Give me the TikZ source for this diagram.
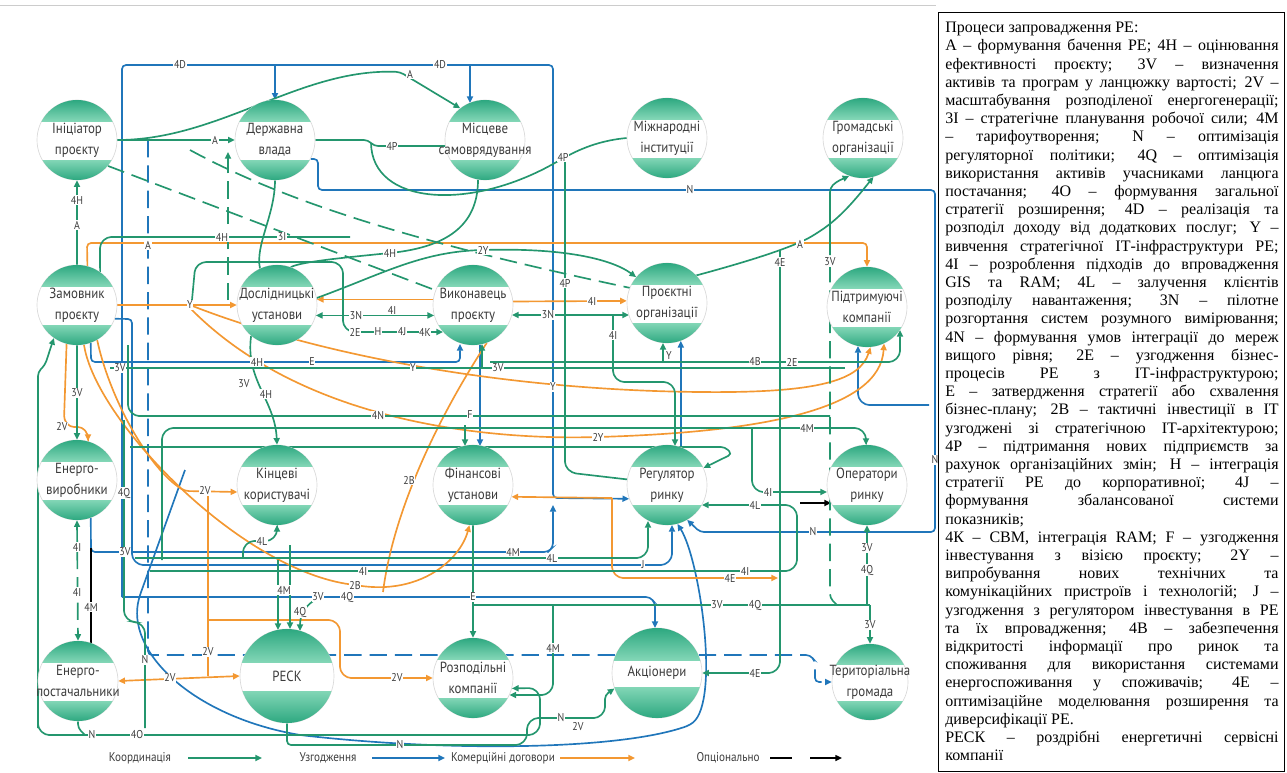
\documentclass[tikz,border=0pt]{standalone}
\usepackage{fontspec}
\setmainfont{Liberation Serif}
\newfontfamily\nodefont[FakeStretch=0.88]{PT Sans}
\usetikzlibrary{arrows.meta}
\definecolor{cg}{RGB}{36,150,110}
\definecolor{cb}{RGB}{32,118,186}
\definecolor{co}{RGB}{243,152,50}
\definecolor{capd}{RGB}{45,168,128}
\definecolor{capl}{RGB}{130,214,182}
\definecolor{txt}{RGB}{60,60,60}
\pgfdeclarelayer{bg}
\pgfsetlayers{bg,main}
\newcounter{lbc}
\tikzset{
  ln/.style={line width=1.25pt,rounded corners=3pt},
  gl/.style={ln,draw=cg},
  bl/.style={ln,draw=cb},
  ol/.style={ln,draw=co},
  kl/.style={ln,draw=black},
  dsh/.style={dash pattern=on 13pt off 6pt},
  ar/.style={-{Triangle[length=5pt,width=4.5pt]}},
  rar/.style={{Triangle[length=5pt,width=4.5pt]}-{Triangle[length=5pt,width=4.5pt]}},
  lab/.style={font=\nodefont\fontsize{8.5}{9}\selectfont,text=txt,fill=white,inner sep=0.5pt},
  ntext/.style={font=\nodefont\fontsize{11}{15.5}\selectfont,text=txt,align=center,inner sep=0pt},
  legtext/.style={font=\nodefont\fontsize{9.5}{10}\selectfont,text=txt},
}
% connector label
\newcommand\lb[3]{\stepcounter{lbc}\node[lab] (lb\arabic{lbc}) at (#1,#2) {#3};}
% sphere-like participant: name, x, y, radius, band above, band below, text
\newcommand\sph[7]{%
  \fill[white] (#2,#3) circle[radius=#4];
  \draw[black!15,line width=0.5pt] (#2,#3) circle[radius=#4];
  \begin{scope}
    \clip (#2,#3) circle[radius=#4];
    \shade[top color=capd,bottom color=capl] (#2-#4,#3-#4) rectangle (#2+#4,#3-#5);
    \shade[top color=capl,bottom color=capd] (#2-#4,#3+#6) rectangle (#2+#4,#3+#4);
  \end{scope}
  \node[circle,inner sep=0pt,minimum size={1.5*#4 pt}] (#1) at (#2,#3) {};
  \node[ntext] (#1-t) at (#2,#3) {#7};
}
\newcommand\jl[1]{\makebox[250pt][s]{#1}}
\begin{document}
\begin{tikzpicture}[x=0.75pt,y=-0.75pt]
\useasboundingbox (0,0) rectangle (1287,772);
\draw[black!20,line width=0.5pt] (0,5) -- (936,5);

% ---------------- participants
\sph{ini}{77}{140}{40}{19}{20}{Ініціатор\\проєкту}
\sph{der}{275}{140}{40}{19}{20}{Державна\\влада}
\sph{mis}{485}{140}{40}{19}{20}{Місцеве\\самоврядування}
\sph{mig}{667}{138}{40}{19}{20}{Міжнародні\\інституції}
\sph{gro}{863}{138}{40}{19}{20}{Громадські\\організації}
\sph{zam}{77}{305}{40}{19}{20}{Замовник\\проєкту}
\sph{dos}{277}{305}{40}{19}{20}{Дослідницькі\\установи}
\sph{vyk}{473}{305}{40}{19}{20}{Виконавець\\проєкту}
\sph{pro}{667}{303}{40}{19}{20}{Проєктні\\організації}
\sph{pid}{867}{307}{40}{19}{20}{Підтримуючі\\компанії}
\sph{evy}{77}{480}{40}{19}{20}{Енерго-\\виробники}
\sph{kin}{277}{485}{40}{19}{20}{Кінцеві\\користувачі}
\sph{fin}{473}{485}{40}{19}{20}{Фінансові\\установи}
\sph{reg}{667}{485}{40}{19}{20}{Регулятор\\ринку}
\sph{ope}{867}{485}{40}{19}{20}{Оператори\\ринку}
\sph{epo}{78}{681}{40}{19}{20}{Енерго-\\постачальники}
\sph{resk}{287}{676}{47}{14}{15}{РЕСК}
\sph{roz}{473}{678}{40}{19}{20}{Розподільні\\компанії}
\sph{akc}{657}{673}{45}{13}{14}{Акціонери}
\sph{ter}{870}{682}{38}{18}{19}{Територіальна\\громада}

\begin{pgfonlayer}{bg}
% ---------------- agreements (blue)
\draw[bl,ar] (122,597) -- (122,65) -- (553,65) -- (553,498) -- (reg.200);
\draw[bl,ar] (275,65) -- (der.north);
\draw[bl,ar] (470,65) -- (470,103);
\draw[bl,ar] (122,597) -- (650,597) -- (655,603) -- (655,628);
\draw[bl,ar] (der.-28) -- (318,159) -- (318,190) -- (935,190) -- (935,532) -- (700,532) -- (reg.-60);
\draw[bl,dsh,ar] (148,140) -- (148,655) -- (810,655) -- (815,661) -- (815,682) -- (ter.west);
\draw[bl,ar] (zam.-70) -- (91,362) -- (460,362) -- (460,344);
\draw[bl,ar] (vyk.-80) -- (480,446);
\draw[bl,ar] (reg.70) -- (pro.-70);
\draw[bl,ar] (185,470) -- (140,595) .. controls (125,650) and (190,715) .. (300,735)
  .. controls (450,752) and (620,750) .. (690,725) .. controls (720,700) and (700,560) .. (reg.-75);
\draw[bl,ar] (evy.-70) -- (91,552) -- (548,552) -- (553,547) -- (553,505);
\draw[bl,ar] (zam.-20) -- (132,319) -- (132,558) -- (139,565) -- (665,565) -- (672,558) -- (672,525);
\draw[bl,ar] (929,405) -- (865,405) -- (858,398) -- (858,346);

% ---------------- commercial contracts (orange)
\draw[ol,ar] (zam.75) -- (87,243) -- (867,243) -- (pid.north);
\draw[ol,ar] (zam.east) -- (dos.west);
\draw[ol,ar] (190,305) .. controls (330,360) and (520,390) .. (700,392) .. controls (820,393) and (860,380) .. (pid.-85);
\draw[ol,ar] (190,308) .. controls (300,420) and (480,440) .. (598,437) .. controls (760,432) and (880,410) .. (pid.-65);
\draw[ol,ar] (zam.-80) .. controls (95,420) and (240,570) .. (355,585) .. controls (420,595) and (460,560) .. (fin.-95);
\draw[ol] (383,592) .. controls (392,520) and (430,430) .. (vyk.-70);
\draw[ol,ar] (zam.-105) -- (64,420) -- (70,427) -- (82,427) -- (88,434) -- (88,441);
\draw[ol,ar] (zam.-60) .. controls (110,400) and (150,470) .. (185,491) -- (kin.190);
\draw[ol] (208,491) -- (208,676);
\draw[ol,rar] (epo.east) -- (resk.west);
\draw[ol,ar] (208,620) -- (333,620) -- (340,627) -- (340,671) -- (347,678) -- (roz.west);
\draw[ol,ar] (612,498) -- (fin.-17);
\draw[ol,ar] (612,498) -- (612,571) -- (619,578) -- (778,578);
\draw[ol,ar] (vyk.172) -- (dos.8);
\draw[ol,ar] (vyk.5) -- (pro.177);

% ---------------- coordination (green)
\draw[gl,ar] (ini.east) -- (der.west);
\draw[gl,ar] (ini.east) .. controls (220,140) and (300,68) .. (400,72) -- (mis.128);
\draw[gl] (der.east) -- (368,140) -- (374,146) -- (446,146);
\draw[gl] (371,143) .. controls (372,205) and (470,212) .. (560,160) .. controls (585,146) and (605,140) .. (mig.west);
\draw[gl,ar] (zam.north) -- (ini.south);
\draw[gl] (mis.-100) .. controls (478,215) and (460,245) .. (390,253) .. controls (340,258) and (300,262) .. (dos.70);
\draw[gl] (der.south) .. controls (275,215) and (255,245) .. (dos.115);
\draw[gl] (zam.55) -- (100,244) -- (107,237) -- (350,237);
\draw[gl,ar] (dos.10) .. controls (380,275) and (420,252) .. (483,250) .. controls (560,248) and (610,258) .. (pro.140);
\draw[gl,dsh] (ini.-40) -- (440,292);
\draw[gl,dsh] (190,150) .. controls (300,210) and (450,250) .. (640,290);
\draw[gl,ar] (640,290) .. controls (720,270) and (790,250) .. (817,233) .. controls (840,218) and (855,200) .. (gro.-75);
\draw[gl,dsh,ar] (228,300) -- (228,152);
\draw[gl,ar] (192,300) -- (195,268) -- (202,262) -- (336,262) -- (343,269) -- (343,325) -- (350,332) -- (443,332);
\draw[gl,rar] (dos.-15) -- (vyk.195);
\draw[gl,rar] (512,315) -- (629,315);
\draw[gl,ar] (613,315) -- (613,375) -- (620,382) -- (668,382) -- (675,389) -- (675,446);
\draw[gl] (565,158) -- (565,466) -- (572,473) -- (reg.172);
\draw[gl,ar] (490,362) -- (893,362) -- (900,355) -- (900,330);
\draw[gl,ar] (663,362) -- (663,343);
\draw[gl] (110,368) -- (845,368);
\draw[gl,ar] (482,368) -- (482,344);
\draw[gl] (128,345) -- (128,409) -- (135,416) -- (830,416);
\draw[gl,ar] (162,560) -- (162,435) -- (169,428) -- (859,428) -- (866,435) -- (866,445);
\draw[gl,ar] (130,447) -- (725,447) -- (732,454) -- (reg.25);
\draw[gl,ar] (752,428) -- (752,485) -- (759,492) -- (827,492);
\draw[kl,ar] (800,503) -- (831,503);
\draw[gl,ar] (150,571) -- (790,571) -- (797,564) -- (797,512) -- (790,505) -- (702,505);
\draw[gl,ar] (135,558) -- (641,558) -- (648,551) -- (648,521);
\draw[gl,ar] (243,558) -- (243,548) -- (250,541) -- (270,541) -- (277,534) -- (277,525);
\draw[gl,ar] (zam.south) -- (evy.north);
\draw[gl,ar] (38,728) -- (38,372) -- (45,365) -- (zam.-125);
\draw[gl,ar] (38,700) -- (38,728) -- (45,735) -- (533,735) -- (540,728) -- (540,695) -- (533,688) -- (roz.-15);
\draw[gl] (epo.south) -- (78,728) -- (85,735);
\draw[gl,ar] (resk.south) -- (287,745) -- (520,745) -- (527,738) -- (527,725) -- (534,718) -- (598,718)
  -- (605,711) -- (605,695) -- (akc.200);
\draw[gl,ar] (553,605) -- (553,688) -- (546,695) -- (roz.-25);
\draw[gl,ar] (780,250) -- (780,666) -- (773,673) -- (akc.east);
\draw[gl,ar] (830,255) -- (830,188) -- (836,182) -- (gro.-110);
\draw[gl,dsh] (830,265) -- (830,598) -- (837,605);
\draw[gl,ar] (fin.south) -- (roz.north);
\draw[gl] (473,605) -- (870,605);
\draw[gl,ar] (867,605) -- (ope.south);
\draw[gl,ar] (870,605) -- (ter.north);
\draw[gl,dsh,rar] (evy.south) -- (epo.north);
\draw[kl] (91,548) -- (91,645);
\draw[gl] (124,420) -- (124,615) -- (131,622) -- (138,622) -- (145,629) -- (145,728);
\draw[gl,ar] (278,560) -- (278,630);
\draw[gl,ar] (290,545) -- (290,629);
\draw[gl,ar] (318,598) .. controls (305,605) and (300,615) .. (300,631);
\draw[gl,ar] (dos.-130) .. controls (245,380) and (275,400) .. (kin.north);
\draw[gl,ar] (465,425) -- (465,446);
\end{pgfonlayer}

% ---------------- connector labels
\lb{180}{65}{4D}\lb{440}{65}{4D}\lb{410}{74}{A}\lb{215}{140}{A}
\lb{392}{146}{4P}\lb{563}{157}{4P}\lb{77}{200}{4H}\lb{77}{225}{A}
\lb{148}{245}{A}\lb{222}{237}{4H}\lb{282}{237}{3I}\lb{390}{253}{4H}
\lb{483}{250}{2Y}\lb{690}{190}{N}\lb{800}{244}{A}\lb{830}{262}{3V}
\lb{780}{262}{4E}\lb{190}{305}{Y}\lb{356}{316}{3N}\lb{392}{310}{4I}
\lb{355}{332}{2E}\lb{378}{332}{H}\lb{402}{332}{4J}\lb{425}{332}{4K}
\lb{548}{315}{3N}\lb{592}{301}{4I}\lb{613}{335}{4I}\lb{565}{283}{4P}
\lb{553}{387}{Y}\lb{257}{362}{4H}\lb{312}{362}{E}\lb{413}{368}{Y}
\lb{498}{368}{3V}\lb{669}{356}{Y}\lb{755}{362}{4B}\lb{792}{362}{2E}
\lb{120}{368}{3V}\lb{77}{393}{3V}\lb{62}{427}{2V}\lb{205}{491}{2V}
\lb{124}{493}{4Q}\lb{378}{416}{4N}\lb{807}{428}{4M}\lb{598}{437}{2Y}
\lb{470}{415}{F}\lb{244}{384}{3V}\lb{266}{394}{4H}\lb{125}{552}{3V}
\lb{513}{552}{4M}\lb{262}{541}{4L}\lb{552}{558}{4L}\lb{643}{565}{J}
\lb{363}{571}{4I}\lb{745}{571}{4I}\lb{755}{505}{4L}\lb{768}{492}{4I}
\lb{935}{460}{N}\lb{813}{532}{N}\lb{409}{480}{2B}\lb{355}{585}{2B}
\lb{730}{578}{4E}\lb{318}{597}{3V}\lb{347}{597}{4Q}\lb{473}{597}{E}
\lb{717}{605}{3V}\lb{755}{605}{4Q}\lb{867}{548}{3V}\lb{867}{570}{4Q}
\lb{870}{625}{3V}\lb{77}{547}{4I}\lb{77}{592}{4I}\lb{91}{607}{4M}
\lb{284}{590}{4M}\lb{300}{612}{4Q}\lb{208}{652}{2V}\lb{170}{678}{2V}
\lb{397}{678}{2V}\lb{553}{648}{4M}\lb{755}{673}{4E}\lb{92}{735}{N}
\lb{137}{735}{4O}\lb{145}{660}{N}\lb{400}{745}{N}\lb{561}{718}{N}
\lb{578}{727}{2V}

% ---------------- key of line colours
\node[legtext] (lg1) at (140,758) {Координація};
\draw[gl,ar] (188,758) -- (262,758);
\node[legtext] (lg2) at (328,758) {Узгодження};
\draw[bl,ar] (372,758) -- (445,758);
\node[legtext] (lg3) at (503,758) {Комерційні договори};
\draw[ol,ar] (560,758) -- (635,758);
\node[legtext] (lg4) at (728,758) {Опціонально};
\draw[line width=1pt] (770,758) -- (792,758);
\draw[line width=1pt,ar] (810,758) -- (842,758);

% ---------------- list of processes
\draw[line width=0.7pt] (938,12) rectangle (1284,771);
\node[anchor=north west,inner sep=0pt,align=left,font=\fontsize{12}{13.65}\selectfont] (processes) at (945,22) {%
Процеси запровадження РЕ:\\
\jl{А – формування бачення РЕ; 4Н – оцінювання}\\
\jl{ефективності проєкту; 3V – визначення}\\
\jl{активів та програм у ланцюжку вартості; 2V –}\\
\jl{масштабування розподіленої енергогенерації;}\\
\jl{3І – стратегічне планування робочої сили; 4М}\\
\jl{– тарифоутворення; N – оптимізація}\\
\jl{регуляторної політики; 4Q – оптимізація}\\
\jl{використання активів учасниками ланцюга}\\
\jl{постачання; 4О – формування загальної}\\
\jl{стратегії розширення; 4D – реалізація та}\\
\jl{розподіл доходу від додаткових послуг; Y –}\\
\jl{вивчення стратегічної ІТ-інфраструктури РЕ;}\\
\jl{4І – розроблення підходів до впровадження}\\
\jl{GIS та RAM; 4L – залучення клієнтів}\\
\jl{розподілу навантаження; 3N – пілотне}\\
\jl{розгортання систем розумного вимірювання;}\\
\jl{4N – формування умов інтеграції до мереж}\\
\jl{вищого рівня; 2Е – узгодження бізнес-}\\
\jl{процесів РЕ з ІТ-інфраструктурою;}\\
\jl{Е – затвердження стратегії або схвалення}\\
\jl{бізнес-плану; 2В – тактичні інвестиції в ІТ}\\
\jl{узгоджені зі стратегічною ІТ-архітектурою;}\\
\jl{4Р – підтримання нових підприємств за}\\
\jl{рахунок організаційних змін; Н – інтеграція}\\
\jl{стратегії РЕ до корпоративної; 4J –}\\
\jl{формування збалансованої системи}\\
показників;\\
\jl{4К – СВМ, інтеграція RAM; F – узгодження}\\
\jl{інвестування з візією проєкту; 2Y –}\\
\jl{випробування нових технічних та}\\
\jl{комунікаційних пристроїв і технологій; J –}\\
\jl{узгодження з регулятором інвестування в РЕ}\\
\jl{та їх впровадження; 4В – забезпечення}\\
\jl{відкритості інформації про ринок та}\\
\jl{споживання для використання системами}\\
\jl{енергоспоживання у споживачів; 4Е –}\\
\jl{оптимізаційне моделювання розширення та}\\
диверсифікації РЕ.\\
\jl{РЕСК – роздрібні енергетичні сервісні}\\
компанії};
\end{tikzpicture}
\end{document}
